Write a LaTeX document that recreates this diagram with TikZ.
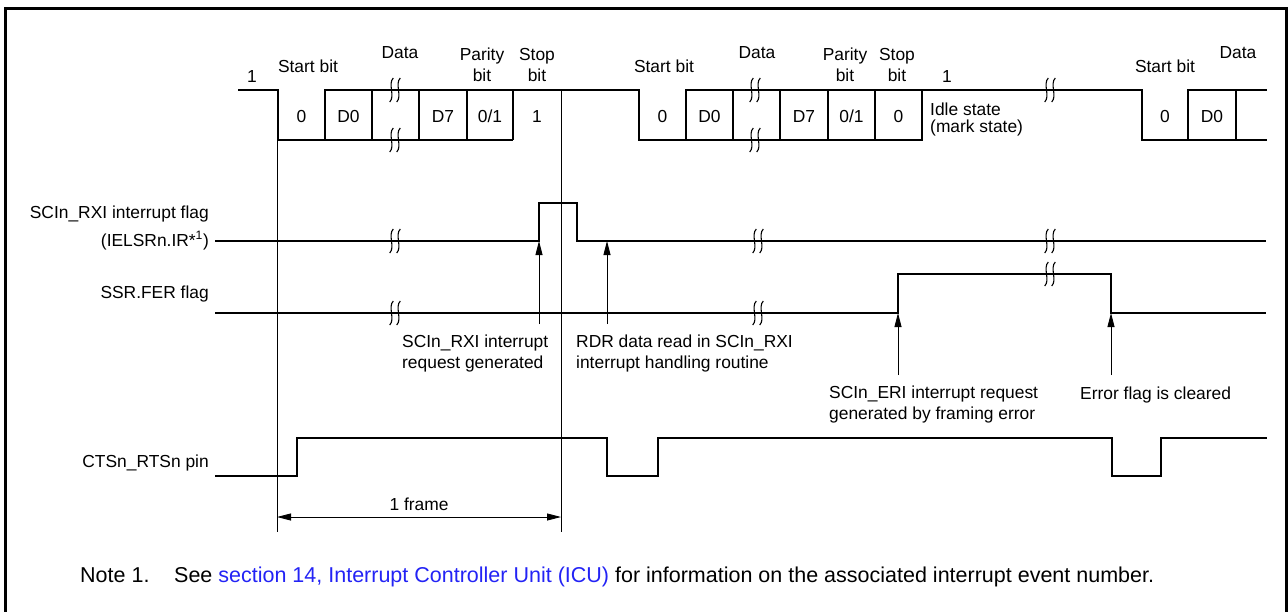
\documentclass[tikz,border=0pt]{standalone}
\usepackage{fontspec}
\setmainfont{Liberation Sans}
\usetikzlibrary{arrows.meta}
\definecolor{linkblue}{RGB}{35,35,245}
\tikzset{sig/.style={line width=1.6pt},
  guide/.style={line width=0.9pt},
  arr/.style={-{Triangle[length=14pt,width=7pt]},line width=0.9pt},
  dim/.style={{Triangle[length=14pt,width=7pt]}-{Triangle[length=14pt,width=7pt]},line width=0.9pt},
  lbl/.style={font=\fontsize{17.4}{20.5}\selectfont,inner sep=0pt,anchor=base},
  brk/.pic={\foreach \d in {-3.5,3.5}{\draw[line width=1.1pt] (\d+1.8,-12) .. controls (\d-4,-6) and (\d+4,6) .. (\d-1.8,12);}}}

\begin{document}
\begin{tikzpicture}[x=1pt,y=-1pt]
\useasboundingbox (0,0) rectangle (1288,611);
\draw[line width=3pt] (5.5,640) -- (5.5,8.5) -- (1286.5,8.5) -- (1286.5,640);
% serial data
\draw[sig] (238,90) -| (278,140) -- (513,140);
\draw[sig] (325,140) |- (639,90) |- (922,140) -- (922,90) -| (1142,140) -- (1267,140);
\draw[sig] (686,140) |- (922,90);
\draw[sig] (1188,140) |- (1267,90);
\foreach \x in {372,419,467,513,733,780,828,875,1236} \draw[sig] (\x,90) -- (\x,140);
\foreach \p in {(395,90),(395,140),(755,90),(755,140),(1050,90)} \pic at \p {brk};
\foreach \x/\t [count=\i] in {301.5/0,348.5/D0,443/D7,490/{0/1},537/1,662.5/0,709.5/D0,804/D7,851.5/{0/1},898.5/0,1165/0,1212/D0}
  \node[lbl] (c\i) at (\x,122) {\t};
\node[lbl] (one1) at (252,82) {1};
\node[lbl] (start1) at (308,72) {Start bit};
\node[lbl] (data1) at (400,58) {Data};
\node[lbl,align=center] (par1) at (482,81) {Parity\\bit};
\node[lbl,align=center] (stop1) at (537,81) {Stop\\bit};
\node[lbl] (start2) at (664,72) {Start bit};
\node[lbl] (data2) at (757,58) {Data};
\node[lbl,align=center] (par2) at (845,81) {Parity\\bit};
\node[lbl,align=center] (stop2) at (897,81) {Stop\\bit};
\node[lbl] (one2) at (947,82) {1};
\node[lbl,anchor=base west,align=left,font=\fontsize{17.4}{17}\selectfont] (idle) at (930,132) {Idle state\\(mark state)};
\node[lbl] (start3) at (1165,72) {Start bit};
\node[lbl] (data3) at (1238,58) {Data};
% frame guides
\draw[guide] (277,140) -- (277,532);
\draw[guide] (561,90) -- (561,532);
\coordinate (frA) at (277,517);
\coordinate (frB) at (561,517);
\draw[dim] (frA) -- (frB);
\node[lbl] (frame) at (419,510) {1 frame};
% flags
\node[lbl,anchor=base east] (rxi) at (209,218) {SCIn\_RXI interrupt flag};
\node[lbl,anchor=base east] (ielsr) at (209,246) {(IELSRn.IR*\textsuperscript{1})};
\node[lbl,anchor=base east] (fer) at (209,298) {SSR.FER flag};
\node[lbl,anchor=base east] (cts) at (209,467) {CTSn\_RTSn pin};
\draw[sig] (215,241) -| (539,203) -| (577,241) -- (1266,241);
\draw[sig] (215,313) -| (898,274) -| (1111,313) -- (1266,313);
\draw[sig] (215,476) -| (297,438) -| (607,476) -| (658,438) -| (1112,476) -| (1161,438) -- (1267,438);
\foreach \p in {(395,241),(758,241),(1050,241),(395,313),(758,313),(1050,274)} \pic at \p {brk};
% events
\coordinate (reqT) at (539,324);
\coordinate (reqH) at (539,241);
\coordinate (rdrT) at (607,324);
\coordinate (rdrH) at (607,241);
\coordinate (eriT) at (898,375);
\coordinate (eriH) at (898,313);
\coordinate (clrT) at (1111,375);
\coordinate (clrH) at (1111,313);
\draw[arr] (reqT) -- (reqH);
\draw[arr] (rdrT) -- (rdrH);
\draw[arr] (eriT) -- (eriH);
\draw[arr] (clrT) -- (clrH);
\node[lbl,anchor=base west,align=left] (req) at (402,368) {SCIn\_RXI interrupt\\request generated};
\node[lbl,anchor=base west,align=left] (rdr) at (576,368) {RDR data read in SCIn\_RXI\\interrupt handling routine};
\node[lbl,anchor=base west,align=left] (eri) at (829,419) {SCIn\_ERI interrupt request\\generated by framing error};
\node[lbl,anchor=base west] (clr) at (1080,399) {Error flag is cleared};
% note
\node[lbl,anchor=base west,font=\fontsize{21.5}{24}\selectfont] (note) at (80,582) {Note 1.};
\node[lbl,anchor=base west,font=\fontsize{21.5}{24}\selectfont] (see) at (174,582) {See \textcolor{linkblue}{section 14, Interrupt Controller Unit (ICU)} for information on the associated interrupt event number.};
\end{tikzpicture}
\end{document}
